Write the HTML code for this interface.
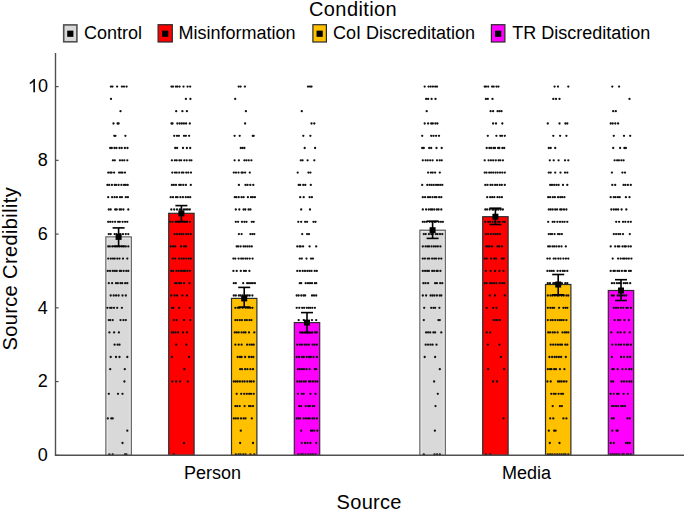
<!DOCTYPE html><html><head><meta charset="utf-8"><style>
html,body{margin:0;padding:0;background:#fff;}
svg{display:block;}
text{font-family:"Liberation Sans",sans-serif;fill:#000;}
</style></head><body>
<svg width="685" height="512" viewBox="0 0 685 512">
<rect x="0" y="0" width="685" height="512" fill="#fff"/>
<text x="309" y="15.5" font-size="20" letter-spacing="0.4">Condition</text>
<rect x="63.70" y="24.90" width="13.20" height="16.90" fill="#d9d9d9" stroke="#505050" stroke-width="1.6"/>
<rect x="67.20" y="30.65" width="6.2" height="6.2" fill="#000"/>
<text x="84.1" y="38.7" font-size="18">Control</text>
<rect x="158.10" y="24.70" width="14.20" height="17.30" fill="#ff0000" stroke="#2a2a2a" stroke-width="1.2"/>
<rect x="162.10" y="30.65" width="6.2" height="6.2" fill="#000"/>
<text x="178.39999999999998" y="38.7" font-size="18">Misinformation</text>
<rect x="312.90" y="24.70" width="13.50" height="17.30" fill="#ffc000" stroke="#2a2a2a" stroke-width="1.2"/>
<rect x="316.55" y="30.65" width="6.2" height="6.2" fill="#000"/>
<text x="333.0" y="38.7" font-size="18">CoI Discreditation</text>
<rect x="491.40" y="24.70" width="13.50" height="17.30" fill="#ff00ff" stroke="#2a2a2a" stroke-width="1.2"/>
<rect x="495.05" y="30.65" width="6.2" height="6.2" fill="#000"/>
<text x="512.2" y="38.7" font-size="18">TR Discreditation</text>
<rect x="105.90" y="236.90" width="25.40" height="218.40" fill="#d9d9d9" stroke="#5c5c5c" stroke-width="1.2"/>
<rect x="107.20" y="238.20" width="22.80" height="217.10" fill="none" stroke="#e9e9e9" stroke-width="0.9"/>
<rect x="168.70" y="213.30" width="25.40" height="242.00" fill="#ff0000" stroke="#2e2e2e" stroke-width="1.2"/>
<rect x="231.50" y="298.40" width="25.40" height="156.90" fill="#ffc000" stroke="#2e2e2e" stroke-width="1.2"/>
<rect x="294.30" y="322.60" width="25.40" height="132.70" fill="#ff00ff" stroke="#2e2e2e" stroke-width="1.2"/>
<rect x="419.90" y="230.20" width="25.40" height="225.10" fill="#d9d9d9" stroke="#5c5c5c" stroke-width="1.2"/>
<rect x="421.20" y="231.50" width="22.80" height="223.80" fill="none" stroke="#e9e9e9" stroke-width="0.9"/>
<rect x="482.70" y="216.70" width="25.40" height="238.60" fill="#ff0000" stroke="#2e2e2e" stroke-width="1.2"/>
<rect x="545.50" y="284.50" width="25.40" height="170.80" fill="#ffc000" stroke="#2e2e2e" stroke-width="1.2"/>
<rect x="608.30" y="290.50" width="25.40" height="164.80" fill="#ff00ff" stroke="#2e2e2e" stroke-width="1.2"/>
<defs><clipPath id="pc"><rect x="56" y="40" width="629" height="414.9"/></clipPath></defs>
<g clip-path="url(#pc)">
<g fill="#111">
<circle cx="110.9" cy="86.6" r="1.15"/>
<circle cx="112.4" cy="86.6" r="1.15"/>
<circle cx="117.1" cy="86.6" r="1.15"/>
<circle cx="121.9" cy="86.6" r="1.15"/>
<circle cx="124.0" cy="86.6" r="1.15"/>
<circle cx="126.6" cy="86.6" r="1.15"/>
<circle cx="111.0" cy="98.9" r="1.15"/>
<circle cx="120.5" cy="111.2" r="1.15"/>
<circle cx="113.5" cy="123.5" r="1.15"/>
<circle cx="117.6" cy="123.5" r="1.15"/>
<circle cx="118.6" cy="123.5" r="1.15"/>
<circle cx="114.3" cy="135.8" r="1.15"/>
<circle cx="115.4" cy="135.8" r="1.15"/>
<circle cx="125.4" cy="135.8" r="1.15"/>
<circle cx="110.2" cy="148.0" r="1.15"/>
<circle cx="111.8" cy="148.0" r="1.15"/>
<circle cx="114.5" cy="148.0" r="1.15"/>
<circle cx="116.4" cy="148.0" r="1.15"/>
<circle cx="119.5" cy="148.0" r="1.15"/>
<circle cx="121.7" cy="148.0" r="1.15"/>
<circle cx="124.9" cy="148.0" r="1.15"/>
<circle cx="127.5" cy="148.0" r="1.15"/>
<circle cx="112.9" cy="160.3" r="1.15"/>
<circle cx="114.8" cy="160.3" r="1.15"/>
<circle cx="119.9" cy="160.3" r="1.15"/>
<circle cx="122.2" cy="160.3" r="1.15"/>
<circle cx="124.3" cy="160.3" r="1.15"/>
<circle cx="127.3" cy="160.3" r="1.15"/>
<circle cx="108.2" cy="172.6" r="1.15"/>
<circle cx="110.2" cy="172.6" r="1.15"/>
<circle cx="111.6" cy="172.6" r="1.15"/>
<circle cx="114.1" cy="172.6" r="1.15"/>
<circle cx="119.1" cy="172.6" r="1.15"/>
<circle cx="121.0" cy="172.6" r="1.15"/>
<circle cx="122.5" cy="172.6" r="1.15"/>
<circle cx="125.0" cy="172.6" r="1.15"/>
<circle cx="107.4" cy="184.9" r="1.15"/>
<circle cx="109.2" cy="184.9" r="1.15"/>
<circle cx="111.9" cy="184.9" r="1.15"/>
<circle cx="114.7" cy="184.9" r="1.15"/>
<circle cx="116.1" cy="184.9" r="1.15"/>
<circle cx="118.6" cy="184.9" r="1.15"/>
<circle cx="121.4" cy="184.9" r="1.15"/>
<circle cx="124.0" cy="184.9" r="1.15"/>
<circle cx="125.8" cy="184.9" r="1.15"/>
<circle cx="127.7" cy="184.9" r="1.15"/>
<circle cx="108.2" cy="197.2" r="1.15"/>
<circle cx="112.1" cy="197.2" r="1.15"/>
<circle cx="114.6" cy="197.2" r="1.15"/>
<circle cx="116.9" cy="197.2" r="1.15"/>
<circle cx="120.0" cy="197.2" r="1.15"/>
<circle cx="121.9" cy="197.2" r="1.15"/>
<circle cx="125.8" cy="197.2" r="1.15"/>
<circle cx="127.9" cy="197.2" r="1.15"/>
<circle cx="108.8" cy="209.5" r="1.15"/>
<circle cx="110.7" cy="209.5" r="1.15"/>
<circle cx="115.2" cy="209.5" r="1.15"/>
<circle cx="116.7" cy="209.5" r="1.15"/>
<circle cx="119.7" cy="209.5" r="1.15"/>
<circle cx="121.1" cy="209.5" r="1.15"/>
<circle cx="123.4" cy="209.5" r="1.15"/>
<circle cx="128.3" cy="209.5" r="1.15"/>
<circle cx="108.2" cy="221.8" r="1.15"/>
<circle cx="110.2" cy="221.8" r="1.15"/>
<circle cx="112.5" cy="221.8" r="1.15"/>
<circle cx="115.1" cy="221.8" r="1.15"/>
<circle cx="118.1" cy="221.8" r="1.15"/>
<circle cx="119.8" cy="221.8" r="1.15"/>
<circle cx="122.6" cy="221.8" r="1.15"/>
<circle cx="125.1" cy="221.8" r="1.15"/>
<circle cx="127.3" cy="221.8" r="1.15"/>
<circle cx="108.8" cy="234.1" r="1.15"/>
<circle cx="110.7" cy="234.1" r="1.15"/>
<circle cx="114.6" cy="234.1" r="1.15"/>
<circle cx="116.5" cy="234.1" r="1.15"/>
<circle cx="118.9" cy="234.1" r="1.15"/>
<circle cx="120.4" cy="234.1" r="1.15"/>
<circle cx="123.0" cy="234.1" r="1.15"/>
<circle cx="125.8" cy="234.1" r="1.15"/>
<circle cx="128.3" cy="234.1" r="1.15"/>
<circle cx="108.2" cy="246.4" r="1.15"/>
<circle cx="109.9" cy="246.4" r="1.15"/>
<circle cx="112.3" cy="246.4" r="1.15"/>
<circle cx="115.1" cy="246.4" r="1.15"/>
<circle cx="117.0" cy="246.4" r="1.15"/>
<circle cx="119.1" cy="246.4" r="1.15"/>
<circle cx="121.7" cy="246.4" r="1.15"/>
<circle cx="123.8" cy="246.4" r="1.15"/>
<circle cx="125.8" cy="246.4" r="1.15"/>
<circle cx="128.3" cy="246.4" r="1.15"/>
<circle cx="108.2" cy="258.6" r="1.15"/>
<circle cx="110.8" cy="258.6" r="1.15"/>
<circle cx="113.0" cy="258.6" r="1.15"/>
<circle cx="114.7" cy="258.6" r="1.15"/>
<circle cx="117.3" cy="258.6" r="1.15"/>
<circle cx="119.5" cy="258.6" r="1.15"/>
<circle cx="123.0" cy="258.6" r="1.15"/>
<circle cx="127.3" cy="258.6" r="1.15"/>
<circle cx="107.8" cy="270.9" r="1.15"/>
<circle cx="110.1" cy="270.9" r="1.15"/>
<circle cx="112.8" cy="270.9" r="1.15"/>
<circle cx="114.9" cy="270.9" r="1.15"/>
<circle cx="116.7" cy="270.9" r="1.15"/>
<circle cx="119.8" cy="270.9" r="1.15"/>
<circle cx="121.0" cy="270.9" r="1.15"/>
<circle cx="123.6" cy="270.9" r="1.15"/>
<circle cx="126.3" cy="270.9" r="1.15"/>
<circle cx="128.3" cy="270.9" r="1.15"/>
<circle cx="108.8" cy="283.2" r="1.15"/>
<circle cx="112.1" cy="283.2" r="1.15"/>
<circle cx="116.0" cy="283.2" r="1.15"/>
<circle cx="117.8" cy="283.2" r="1.15"/>
<circle cx="120.5" cy="283.2" r="1.15"/>
<circle cx="122.2" cy="283.2" r="1.15"/>
<circle cx="125.2" cy="283.2" r="1.15"/>
<circle cx="127.3" cy="283.2" r="1.15"/>
<circle cx="110.7" cy="295.5" r="1.15"/>
<circle cx="113.7" cy="295.5" r="1.15"/>
<circle cx="116.1" cy="295.5" r="1.15"/>
<circle cx="118.6" cy="295.5" r="1.15"/>
<circle cx="122.5" cy="295.5" r="1.15"/>
<circle cx="125.8" cy="295.5" r="1.15"/>
<circle cx="107.4" cy="307.8" r="1.15"/>
<circle cx="110.1" cy="307.8" r="1.15"/>
<circle cx="111.6" cy="307.8" r="1.15"/>
<circle cx="114.0" cy="307.8" r="1.15"/>
<circle cx="117.2" cy="307.8" r="1.15"/>
<circle cx="121.9" cy="307.8" r="1.15"/>
<circle cx="108.8" cy="320.1" r="1.15"/>
<circle cx="110.2" cy="320.1" r="1.15"/>
<circle cx="112.7" cy="320.1" r="1.15"/>
<circle cx="120.5" cy="320.1" r="1.15"/>
<circle cx="123.4" cy="320.1" r="1.15"/>
<circle cx="125.8" cy="320.1" r="1.15"/>
<circle cx="109.4" cy="332.4" r="1.15"/>
<circle cx="114.1" cy="332.4" r="1.15"/>
<circle cx="118.9" cy="332.4" r="1.15"/>
<circle cx="114.6" cy="344.7" r="1.15"/>
<circle cx="117.6" cy="344.7" r="1.15"/>
<circle cx="119.5" cy="344.7" r="1.15"/>
<circle cx="110.7" cy="357.0" r="1.15"/>
<circle cx="116.0" cy="357.0" r="1.15"/>
<circle cx="119.5" cy="357.0" r="1.15"/>
<circle cx="127.3" cy="357.0" r="1.15"/>
<circle cx="110.2" cy="369.2" r="1.15"/>
<circle cx="124.8" cy="369.2" r="1.15"/>
<circle cx="124.4" cy="381.5" r="1.15"/>
<circle cx="108.8" cy="393.8" r="1.15"/>
<circle cx="118.0" cy="393.8" r="1.15"/>
<circle cx="122.5" cy="393.8" r="1.15"/>
<circle cx="107.8" cy="418.4" r="1.15"/>
<circle cx="111.3" cy="418.4" r="1.15"/>
<circle cx="112.7" cy="418.4" r="1.15"/>
<circle cx="127.3" cy="430.7" r="1.15"/>
<circle cx="122.5" cy="443.0" r="1.15"/>
<circle cx="109.4" cy="454.5" r="1.15"/>
<circle cx="112.7" cy="454.5" r="1.15"/>
<circle cx="125.0" cy="454.5" r="1.15"/>
<circle cx="126.4" cy="454.5" r="1.15"/>
<circle cx="171.5" cy="86.6" r="1.15"/>
<circle cx="173.0" cy="86.6" r="1.15"/>
<circle cx="175.9" cy="86.6" r="1.15"/>
<circle cx="177.4" cy="86.6" r="1.15"/>
<circle cx="179.6" cy="86.6" r="1.15"/>
<circle cx="183.5" cy="86.6" r="1.15"/>
<circle cx="187.6" cy="86.6" r="1.15"/>
<circle cx="190.2" cy="86.6" r="1.15"/>
<circle cx="185.9" cy="98.9" r="1.15"/>
<circle cx="190.4" cy="98.9" r="1.15"/>
<circle cx="176.2" cy="111.2" r="1.15"/>
<circle cx="182.4" cy="111.2" r="1.15"/>
<circle cx="186.9" cy="111.2" r="1.15"/>
<circle cx="171.5" cy="123.5" r="1.15"/>
<circle cx="172.5" cy="123.5" r="1.15"/>
<circle cx="177.4" cy="123.5" r="1.15"/>
<circle cx="179.7" cy="123.5" r="1.15"/>
<circle cx="181.8" cy="123.5" r="1.15"/>
<circle cx="183.9" cy="123.5" r="1.15"/>
<circle cx="186.1" cy="123.5" r="1.15"/>
<circle cx="189.8" cy="123.5" r="1.15"/>
<circle cx="174.2" cy="135.8" r="1.15"/>
<circle cx="177.0" cy="135.8" r="1.15"/>
<circle cx="178.9" cy="135.8" r="1.15"/>
<circle cx="184.0" cy="135.8" r="1.15"/>
<circle cx="185.9" cy="135.8" r="1.15"/>
<circle cx="189.1" cy="135.8" r="1.15"/>
<circle cx="175.2" cy="148.0" r="1.15"/>
<circle cx="177.1" cy="148.0" r="1.15"/>
<circle cx="183.0" cy="148.0" r="1.15"/>
<circle cx="186.9" cy="148.0" r="1.15"/>
<circle cx="190.2" cy="148.0" r="1.15"/>
<circle cx="171.9" cy="160.3" r="1.15"/>
<circle cx="174.9" cy="160.3" r="1.15"/>
<circle cx="176.7" cy="160.3" r="1.15"/>
<circle cx="179.4" cy="160.3" r="1.15"/>
<circle cx="181.1" cy="160.3" r="1.15"/>
<circle cx="184.3" cy="160.3" r="1.15"/>
<circle cx="186.7" cy="160.3" r="1.15"/>
<circle cx="189.6" cy="160.3" r="1.15"/>
<circle cx="191.4" cy="160.3" r="1.15"/>
<circle cx="172.3" cy="172.6" r="1.15"/>
<circle cx="175.0" cy="172.6" r="1.15"/>
<circle cx="176.7" cy="172.6" r="1.15"/>
<circle cx="179.2" cy="172.6" r="1.15"/>
<circle cx="181.9" cy="172.6" r="1.15"/>
<circle cx="183.4" cy="172.6" r="1.15"/>
<circle cx="186.3" cy="172.6" r="1.15"/>
<circle cx="188.3" cy="172.6" r="1.15"/>
<circle cx="191.0" cy="172.6" r="1.15"/>
<circle cx="171.9" cy="184.9" r="1.15"/>
<circle cx="173.8" cy="184.9" r="1.15"/>
<circle cx="176.0" cy="184.9" r="1.15"/>
<circle cx="179.2" cy="184.9" r="1.15"/>
<circle cx="180.8" cy="184.9" r="1.15"/>
<circle cx="183.3" cy="184.9" r="1.15"/>
<circle cx="185.9" cy="184.9" r="1.15"/>
<circle cx="190.8" cy="184.9" r="1.15"/>
<circle cx="170.7" cy="197.2" r="1.15"/>
<circle cx="173.0" cy="197.2" r="1.15"/>
<circle cx="176.0" cy="197.2" r="1.15"/>
<circle cx="177.5" cy="197.2" r="1.15"/>
<circle cx="180.4" cy="197.2" r="1.15"/>
<circle cx="182.9" cy="197.2" r="1.15"/>
<circle cx="185.8" cy="197.2" r="1.15"/>
<circle cx="188.1" cy="197.2" r="1.15"/>
<circle cx="190.2" cy="197.2" r="1.15"/>
<circle cx="171.3" cy="209.5" r="1.15"/>
<circle cx="174.2" cy="209.5" r="1.15"/>
<circle cx="177.0" cy="209.5" r="1.15"/>
<circle cx="179.8" cy="209.5" r="1.15"/>
<circle cx="181.4" cy="209.5" r="1.15"/>
<circle cx="184.0" cy="209.5" r="1.15"/>
<circle cx="186.0" cy="209.5" r="1.15"/>
<circle cx="187.8" cy="209.5" r="1.15"/>
<circle cx="189.8" cy="209.5" r="1.15"/>
<circle cx="170.3" cy="221.8" r="1.15"/>
<circle cx="172.6" cy="221.8" r="1.15"/>
<circle cx="175.6" cy="221.8" r="1.15"/>
<circle cx="178.2" cy="221.8" r="1.15"/>
<circle cx="179.6" cy="221.8" r="1.15"/>
<circle cx="182.1" cy="221.8" r="1.15"/>
<circle cx="184.6" cy="221.8" r="1.15"/>
<circle cx="187.0" cy="221.8" r="1.15"/>
<circle cx="189.8" cy="221.8" r="1.15"/>
<circle cx="174.6" cy="234.1" r="1.15"/>
<circle cx="176.9" cy="234.1" r="1.15"/>
<circle cx="179.3" cy="234.1" r="1.15"/>
<circle cx="181.3" cy="234.1" r="1.15"/>
<circle cx="183.3" cy="234.1" r="1.15"/>
<circle cx="186.1" cy="234.1" r="1.15"/>
<circle cx="188.3" cy="234.1" r="1.15"/>
<circle cx="190.8" cy="234.1" r="1.15"/>
<circle cx="170.7" cy="246.4" r="1.15"/>
<circle cx="173.0" cy="246.4" r="1.15"/>
<circle cx="175.2" cy="246.4" r="1.15"/>
<circle cx="181.0" cy="246.4" r="1.15"/>
<circle cx="184.0" cy="246.4" r="1.15"/>
<circle cx="186.0" cy="246.4" r="1.15"/>
<circle cx="172.7" cy="258.6" r="1.15"/>
<circle cx="175.2" cy="258.6" r="1.15"/>
<circle cx="179.1" cy="258.6" r="1.15"/>
<circle cx="181.7" cy="258.6" r="1.15"/>
<circle cx="183.8" cy="258.6" r="1.15"/>
<circle cx="186.3" cy="258.6" r="1.15"/>
<circle cx="188.7" cy="258.6" r="1.15"/>
<circle cx="190.8" cy="258.6" r="1.15"/>
<circle cx="171.3" cy="270.9" r="1.15"/>
<circle cx="173.1" cy="270.9" r="1.15"/>
<circle cx="176.4" cy="270.9" r="1.15"/>
<circle cx="178.6" cy="270.9" r="1.15"/>
<circle cx="181.0" cy="270.9" r="1.15"/>
<circle cx="183.2" cy="270.9" r="1.15"/>
<circle cx="185.0" cy="270.9" r="1.15"/>
<circle cx="187.4" cy="270.9" r="1.15"/>
<circle cx="189.8" cy="270.9" r="1.15"/>
<circle cx="175.2" cy="283.2" r="1.15"/>
<circle cx="176.7" cy="283.2" r="1.15"/>
<circle cx="179.2" cy="283.2" r="1.15"/>
<circle cx="181.0" cy="283.2" r="1.15"/>
<circle cx="184.0" cy="283.2" r="1.15"/>
<circle cx="189.5" cy="283.2" r="1.15"/>
<circle cx="171.3" cy="295.5" r="1.15"/>
<circle cx="174.6" cy="295.5" r="1.15"/>
<circle cx="177.1" cy="295.5" r="1.15"/>
<circle cx="182.4" cy="295.5" r="1.15"/>
<circle cx="186.9" cy="295.5" r="1.15"/>
<circle cx="171.9" cy="307.8" r="1.15"/>
<circle cx="173.4" cy="307.8" r="1.15"/>
<circle cx="179.1" cy="307.8" r="1.15"/>
<circle cx="189.8" cy="307.8" r="1.15"/>
<circle cx="173.8" cy="320.1" r="1.15"/>
<circle cx="176.6" cy="320.1" r="1.15"/>
<circle cx="184.0" cy="320.1" r="1.15"/>
<circle cx="190.2" cy="320.1" r="1.15"/>
<circle cx="171.9" cy="332.4" r="1.15"/>
<circle cx="173.4" cy="332.4" r="1.15"/>
<circle cx="175.5" cy="332.4" r="1.15"/>
<circle cx="178.1" cy="332.4" r="1.15"/>
<circle cx="183.0" cy="332.4" r="1.15"/>
<circle cx="186.9" cy="332.4" r="1.15"/>
<circle cx="176.2" cy="344.7" r="1.15"/>
<circle cx="186.3" cy="344.7" r="1.15"/>
<circle cx="171.9" cy="357.0" r="1.15"/>
<circle cx="189.1" cy="357.0" r="1.15"/>
<circle cx="184.4" cy="369.2" r="1.15"/>
<circle cx="172.3" cy="381.5" r="1.15"/>
<circle cx="176.2" cy="381.5" r="1.15"/>
<circle cx="180.1" cy="381.5" r="1.15"/>
<circle cx="187.9" cy="381.5" r="1.15"/>
<circle cx="184.0" cy="443.0" r="1.15"/>
<circle cx="173.8" cy="454.5" r="1.15"/>
<circle cx="238.7" cy="86.6" r="1.15"/>
<circle cx="240.6" cy="86.6" r="1.15"/>
<circle cx="244.9" cy="86.6" r="1.15"/>
<circle cx="235.2" cy="98.9" r="1.15"/>
<circle cx="245.9" cy="111.2" r="1.15"/>
<circle cx="245.1" cy="123.5" r="1.15"/>
<circle cx="234.6" cy="135.8" r="1.15"/>
<circle cx="239.7" cy="135.8" r="1.15"/>
<circle cx="252.8" cy="135.8" r="1.15"/>
<circle cx="253.7" cy="135.8" r="1.15"/>
<circle cx="240.8" cy="148.0" r="1.15"/>
<circle cx="242.6" cy="148.0" r="1.15"/>
<circle cx="244.4" cy="148.0" r="1.15"/>
<circle cx="234.6" cy="160.3" r="1.15"/>
<circle cx="238.9" cy="160.3" r="1.15"/>
<circle cx="244.4" cy="160.3" r="1.15"/>
<circle cx="246.4" cy="160.3" r="1.15"/>
<circle cx="248.7" cy="160.3" r="1.15"/>
<circle cx="251.4" cy="160.3" r="1.15"/>
<circle cx="233.8" cy="172.6" r="1.15"/>
<circle cx="236.0" cy="172.6" r="1.15"/>
<circle cx="238.5" cy="172.6" r="1.15"/>
<circle cx="241.6" cy="172.6" r="1.15"/>
<circle cx="242.8" cy="172.6" r="1.15"/>
<circle cx="245.1" cy="172.6" r="1.15"/>
<circle cx="249.8" cy="172.6" r="1.15"/>
<circle cx="238.9" cy="184.9" r="1.15"/>
<circle cx="245.5" cy="184.9" r="1.15"/>
<circle cx="247.5" cy="184.9" r="1.15"/>
<circle cx="250.3" cy="184.9" r="1.15"/>
<circle cx="253.3" cy="184.9" r="1.15"/>
<circle cx="234.8" cy="197.2" r="1.15"/>
<circle cx="236.3" cy="197.2" r="1.15"/>
<circle cx="238.7" cy="197.2" r="1.15"/>
<circle cx="241.6" cy="197.2" r="1.15"/>
<circle cx="243.6" cy="197.2" r="1.15"/>
<circle cx="247.9" cy="197.2" r="1.15"/>
<circle cx="251.0" cy="197.2" r="1.15"/>
<circle cx="252.8" cy="197.2" r="1.15"/>
<circle cx="254.9" cy="197.2" r="1.15"/>
<circle cx="235.8" cy="209.5" r="1.15"/>
<circle cx="239.3" cy="209.5" r="1.15"/>
<circle cx="243.6" cy="209.5" r="1.15"/>
<circle cx="245.3" cy="209.5" r="1.15"/>
<circle cx="248.6" cy="209.5" r="1.15"/>
<circle cx="250.4" cy="209.5" r="1.15"/>
<circle cx="235.8" cy="221.8" r="1.15"/>
<circle cx="238.1" cy="221.8" r="1.15"/>
<circle cx="242.0" cy="221.8" r="1.15"/>
<circle cx="244.4" cy="221.8" r="1.15"/>
<circle cx="246.5" cy="221.8" r="1.15"/>
<circle cx="251.8" cy="221.8" r="1.15"/>
<circle cx="253.7" cy="221.8" r="1.15"/>
<circle cx="238.9" cy="234.1" r="1.15"/>
<circle cx="241.6" cy="234.1" r="1.15"/>
<circle cx="250.4" cy="234.1" r="1.15"/>
<circle cx="252.4" cy="234.1" r="1.15"/>
<circle cx="254.3" cy="234.1" r="1.15"/>
<circle cx="236.7" cy="246.4" r="1.15"/>
<circle cx="238.2" cy="246.4" r="1.15"/>
<circle cx="240.6" cy="246.4" r="1.15"/>
<circle cx="243.6" cy="246.4" r="1.15"/>
<circle cx="245.4" cy="246.4" r="1.15"/>
<circle cx="247.5" cy="246.4" r="1.15"/>
<circle cx="249.6" cy="246.4" r="1.15"/>
<circle cx="251.8" cy="246.4" r="1.15"/>
<circle cx="233.4" cy="258.6" r="1.15"/>
<circle cx="235.3" cy="258.6" r="1.15"/>
<circle cx="238.6" cy="258.6" r="1.15"/>
<circle cx="241.2" cy="258.6" r="1.15"/>
<circle cx="243.0" cy="258.6" r="1.15"/>
<circle cx="245.4" cy="258.6" r="1.15"/>
<circle cx="247.3" cy="258.6" r="1.15"/>
<circle cx="249.7" cy="258.6" r="1.15"/>
<circle cx="252.6" cy="258.6" r="1.15"/>
<circle cx="233.4" cy="270.9" r="1.15"/>
<circle cx="236.7" cy="270.9" r="1.15"/>
<circle cx="240.8" cy="270.9" r="1.15"/>
<circle cx="244.0" cy="270.9" r="1.15"/>
<circle cx="245.9" cy="270.9" r="1.15"/>
<circle cx="249.4" cy="270.9" r="1.15"/>
<circle cx="233.8" cy="283.2" r="1.15"/>
<circle cx="235.8" cy="283.2" r="1.15"/>
<circle cx="243.2" cy="283.2" r="1.15"/>
<circle cx="247.1" cy="283.2" r="1.15"/>
<circle cx="249.0" cy="283.2" r="1.15"/>
<circle cx="251.0" cy="283.2" r="1.15"/>
<circle cx="252.8" cy="283.2" r="1.15"/>
<circle cx="254.9" cy="283.2" r="1.15"/>
<circle cx="233.8" cy="295.5" r="1.15"/>
<circle cx="235.8" cy="295.5" r="1.15"/>
<circle cx="238.8" cy="295.5" r="1.15"/>
<circle cx="240.4" cy="295.5" r="1.15"/>
<circle cx="242.5" cy="295.5" r="1.15"/>
<circle cx="246.0" cy="295.5" r="1.15"/>
<circle cx="247.8" cy="295.5" r="1.15"/>
<circle cx="249.7" cy="295.5" r="1.15"/>
<circle cx="252.4" cy="295.5" r="1.15"/>
<circle cx="235.4" cy="307.8" r="1.15"/>
<circle cx="237.9" cy="307.8" r="1.15"/>
<circle cx="239.7" cy="307.8" r="1.15"/>
<circle cx="242.7" cy="307.8" r="1.15"/>
<circle cx="245.7" cy="307.8" r="1.15"/>
<circle cx="248.0" cy="307.8" r="1.15"/>
<circle cx="250.2" cy="307.8" r="1.15"/>
<circle cx="252.4" cy="307.8" r="1.15"/>
<circle cx="235.4" cy="320.1" r="1.15"/>
<circle cx="237.4" cy="320.1" r="1.15"/>
<circle cx="239.8" cy="320.1" r="1.15"/>
<circle cx="241.9" cy="320.1" r="1.15"/>
<circle cx="244.9" cy="320.1" r="1.15"/>
<circle cx="246.9" cy="320.1" r="1.15"/>
<circle cx="249.4" cy="320.1" r="1.15"/>
<circle cx="251.4" cy="320.1" r="1.15"/>
<circle cx="234.8" cy="332.4" r="1.15"/>
<circle cx="236.7" cy="332.4" r="1.15"/>
<circle cx="238.7" cy="332.4" r="1.15"/>
<circle cx="241.6" cy="332.4" r="1.15"/>
<circle cx="243.9" cy="332.4" r="1.15"/>
<circle cx="245.5" cy="332.4" r="1.15"/>
<circle cx="249.0" cy="332.4" r="1.15"/>
<circle cx="254.3" cy="332.4" r="1.15"/>
<circle cx="235.4" cy="344.7" r="1.15"/>
<circle cx="238.7" cy="344.7" r="1.15"/>
<circle cx="241.6" cy="344.7" r="1.15"/>
<circle cx="247.1" cy="344.7" r="1.15"/>
<circle cx="249.7" cy="344.7" r="1.15"/>
<circle cx="251.9" cy="344.7" r="1.15"/>
<circle cx="253.7" cy="344.7" r="1.15"/>
<circle cx="237.7" cy="357.0" r="1.15"/>
<circle cx="240.0" cy="357.0" r="1.15"/>
<circle cx="241.6" cy="357.0" r="1.15"/>
<circle cx="245.1" cy="357.0" r="1.15"/>
<circle cx="249.0" cy="357.0" r="1.15"/>
<circle cx="251.4" cy="357.0" r="1.15"/>
<circle cx="253.3" cy="357.0" r="1.15"/>
<circle cx="240.1" cy="369.2" r="1.15"/>
<circle cx="242.0" cy="369.2" r="1.15"/>
<circle cx="245.1" cy="369.2" r="1.15"/>
<circle cx="247.4" cy="369.2" r="1.15"/>
<circle cx="250.4" cy="369.2" r="1.15"/>
<circle cx="253.0" cy="369.2" r="1.15"/>
<circle cx="233.8" cy="381.5" r="1.15"/>
<circle cx="235.8" cy="381.5" r="1.15"/>
<circle cx="237.7" cy="381.5" r="1.15"/>
<circle cx="239.9" cy="381.5" r="1.15"/>
<circle cx="242.4" cy="381.5" r="1.15"/>
<circle cx="244.6" cy="381.5" r="1.15"/>
<circle cx="247.3" cy="381.5" r="1.15"/>
<circle cx="249.8" cy="381.5" r="1.15"/>
<circle cx="251.4" cy="381.5" r="1.15"/>
<circle cx="253.7" cy="381.5" r="1.15"/>
<circle cx="236.7" cy="393.8" r="1.15"/>
<circle cx="241.2" cy="393.8" r="1.15"/>
<circle cx="244.2" cy="393.8" r="1.15"/>
<circle cx="246.8" cy="393.8" r="1.15"/>
<circle cx="249.2" cy="393.8" r="1.15"/>
<circle cx="251.0" cy="393.8" r="1.15"/>
<circle cx="253.7" cy="393.8" r="1.15"/>
<circle cx="235.4" cy="406.1" r="1.15"/>
<circle cx="237.2" cy="406.1" r="1.15"/>
<circle cx="239.7" cy="406.1" r="1.15"/>
<circle cx="244.6" cy="406.1" r="1.15"/>
<circle cx="249.0" cy="406.1" r="1.15"/>
<circle cx="250.7" cy="406.1" r="1.15"/>
<circle cx="253.0" cy="406.1" r="1.15"/>
<circle cx="233.8" cy="418.4" r="1.15"/>
<circle cx="235.8" cy="418.4" r="1.15"/>
<circle cx="238.1" cy="418.4" r="1.15"/>
<circle cx="241.0" cy="418.4" r="1.15"/>
<circle cx="243.6" cy="418.4" r="1.15"/>
<circle cx="245.5" cy="418.4" r="1.15"/>
<circle cx="251.8" cy="418.4" r="1.15"/>
<circle cx="240.8" cy="430.7" r="1.15"/>
<circle cx="240.1" cy="443.0" r="1.15"/>
<circle cx="253.0" cy="443.0" r="1.15"/>
<circle cx="235.8" cy="454.5" r="1.15"/>
<circle cx="238.6" cy="454.5" r="1.15"/>
<circle cx="240.6" cy="454.5" r="1.15"/>
<circle cx="243.3" cy="454.5" r="1.15"/>
<circle cx="245.5" cy="454.5" r="1.15"/>
<circle cx="250.4" cy="454.5" r="1.15"/>
<circle cx="254.3" cy="454.5" r="1.15"/>
<circle cx="308.0" cy="86.6" r="1.15"/>
<circle cx="310.0" cy="86.6" r="1.15"/>
<circle cx="311.5" cy="86.6" r="1.15"/>
<circle cx="301.8" cy="111.2" r="1.15"/>
<circle cx="311.5" cy="123.5" r="1.15"/>
<circle cx="314.3" cy="123.5" r="1.15"/>
<circle cx="303.3" cy="135.8" r="1.15"/>
<circle cx="310.4" cy="135.8" r="1.15"/>
<circle cx="304.7" cy="148.0" r="1.15"/>
<circle cx="315.1" cy="148.0" r="1.15"/>
<circle cx="300.8" cy="160.3" r="1.15"/>
<circle cx="302.6" cy="160.3" r="1.15"/>
<circle cx="307.6" cy="160.3" r="1.15"/>
<circle cx="314.3" cy="160.3" r="1.15"/>
<circle cx="297.7" cy="172.6" r="1.15"/>
<circle cx="308.4" cy="172.6" r="1.15"/>
<circle cx="310.4" cy="172.6" r="1.15"/>
<circle cx="298.7" cy="184.9" r="1.15"/>
<circle cx="300.2" cy="184.9" r="1.15"/>
<circle cx="303.3" cy="184.9" r="1.15"/>
<circle cx="305.3" cy="184.9" r="1.15"/>
<circle cx="310.8" cy="184.9" r="1.15"/>
<circle cx="300.2" cy="197.2" r="1.15"/>
<circle cx="303.7" cy="197.2" r="1.15"/>
<circle cx="309.6" cy="197.2" r="1.15"/>
<circle cx="311.9" cy="197.2" r="1.15"/>
<circle cx="301.2" cy="209.5" r="1.15"/>
<circle cx="310.0" cy="209.5" r="1.15"/>
<circle cx="298.3" cy="221.8" r="1.15"/>
<circle cx="301.2" cy="221.8" r="1.15"/>
<circle cx="305.1" cy="221.8" r="1.15"/>
<circle cx="307.1" cy="221.8" r="1.15"/>
<circle cx="313.5" cy="221.8" r="1.15"/>
<circle cx="315.5" cy="221.8" r="1.15"/>
<circle cx="302.2" cy="234.1" r="1.15"/>
<circle cx="307.1" cy="234.1" r="1.15"/>
<circle cx="309.0" cy="234.1" r="1.15"/>
<circle cx="297.3" cy="246.4" r="1.15"/>
<circle cx="299.6" cy="246.4" r="1.15"/>
<circle cx="300.7" cy="246.4" r="1.15"/>
<circle cx="303.1" cy="246.4" r="1.15"/>
<circle cx="309.6" cy="246.4" r="1.15"/>
<circle cx="316.2" cy="246.4" r="1.15"/>
<circle cx="299.8" cy="258.6" r="1.15"/>
<circle cx="301.8" cy="258.6" r="1.15"/>
<circle cx="306.5" cy="258.6" r="1.15"/>
<circle cx="311.0" cy="258.6" r="1.15"/>
<circle cx="312.9" cy="258.6" r="1.15"/>
<circle cx="297.3" cy="270.9" r="1.15"/>
<circle cx="299.9" cy="270.9" r="1.15"/>
<circle cx="302.7" cy="270.9" r="1.15"/>
<circle cx="305.0" cy="270.9" r="1.15"/>
<circle cx="307.4" cy="270.9" r="1.15"/>
<circle cx="309.5" cy="270.9" r="1.15"/>
<circle cx="311.5" cy="270.9" r="1.15"/>
<circle cx="314.7" cy="270.9" r="1.15"/>
<circle cx="316.8" cy="270.9" r="1.15"/>
<circle cx="299.8" cy="283.2" r="1.15"/>
<circle cx="301.2" cy="283.2" r="1.15"/>
<circle cx="305.7" cy="283.2" r="1.15"/>
<circle cx="308.0" cy="283.2" r="1.15"/>
<circle cx="310.0" cy="283.2" r="1.15"/>
<circle cx="312.0" cy="283.2" r="1.15"/>
<circle cx="314.9" cy="283.2" r="1.15"/>
<circle cx="316.2" cy="283.2" r="1.15"/>
<circle cx="296.7" cy="295.5" r="1.15"/>
<circle cx="298.6" cy="295.5" r="1.15"/>
<circle cx="301.3" cy="295.5" r="1.15"/>
<circle cx="303.6" cy="295.5" r="1.15"/>
<circle cx="305.1" cy="295.5" r="1.15"/>
<circle cx="312.0" cy="295.5" r="1.15"/>
<circle cx="314.0" cy="295.5" r="1.15"/>
<circle cx="316.2" cy="295.5" r="1.15"/>
<circle cx="296.7" cy="307.8" r="1.15"/>
<circle cx="299.3" cy="307.8" r="1.15"/>
<circle cx="302.2" cy="307.8" r="1.15"/>
<circle cx="304.1" cy="307.8" r="1.15"/>
<circle cx="306.8" cy="307.8" r="1.15"/>
<circle cx="308.7" cy="307.8" r="1.15"/>
<circle cx="310.2" cy="307.8" r="1.15"/>
<circle cx="312.3" cy="307.8" r="1.15"/>
<circle cx="314.9" cy="307.8" r="1.15"/>
<circle cx="298.7" cy="320.1" r="1.15"/>
<circle cx="303.7" cy="320.1" r="1.15"/>
<circle cx="312.0" cy="320.1" r="1.15"/>
<circle cx="316.2" cy="320.1" r="1.15"/>
<circle cx="300.2" cy="332.4" r="1.15"/>
<circle cx="302.2" cy="332.4" r="1.15"/>
<circle cx="305.4" cy="332.4" r="1.15"/>
<circle cx="307.7" cy="332.4" r="1.15"/>
<circle cx="309.3" cy="332.4" r="1.15"/>
<circle cx="312.4" cy="332.4" r="1.15"/>
<circle cx="315.0" cy="332.4" r="1.15"/>
<circle cx="316.8" cy="332.4" r="1.15"/>
<circle cx="297.3" cy="344.7" r="1.15"/>
<circle cx="299.9" cy="344.7" r="1.15"/>
<circle cx="302.0" cy="344.7" r="1.15"/>
<circle cx="304.7" cy="344.7" r="1.15"/>
<circle cx="306.6" cy="344.7" r="1.15"/>
<circle cx="308.9" cy="344.7" r="1.15"/>
<circle cx="312.5" cy="344.7" r="1.15"/>
<circle cx="314.5" cy="344.7" r="1.15"/>
<circle cx="316.8" cy="344.7" r="1.15"/>
<circle cx="296.7" cy="357.0" r="1.15"/>
<circle cx="299.1" cy="357.0" r="1.15"/>
<circle cx="302.0" cy="357.0" r="1.15"/>
<circle cx="303.8" cy="357.0" r="1.15"/>
<circle cx="306.7" cy="357.0" r="1.15"/>
<circle cx="309.1" cy="357.0" r="1.15"/>
<circle cx="310.8" cy="357.0" r="1.15"/>
<circle cx="313.5" cy="357.0" r="1.15"/>
<circle cx="316.8" cy="357.0" r="1.15"/>
<circle cx="297.9" cy="369.2" r="1.15"/>
<circle cx="299.8" cy="369.2" r="1.15"/>
<circle cx="302.0" cy="369.2" r="1.15"/>
<circle cx="304.0" cy="369.2" r="1.15"/>
<circle cx="306.5" cy="369.2" r="1.15"/>
<circle cx="309.6" cy="369.2" r="1.15"/>
<circle cx="314.9" cy="369.2" r="1.15"/>
<circle cx="316.2" cy="369.2" r="1.15"/>
<circle cx="297.3" cy="381.5" r="1.15"/>
<circle cx="299.6" cy="381.5" r="1.15"/>
<circle cx="301.5" cy="381.5" r="1.15"/>
<circle cx="303.9" cy="381.5" r="1.15"/>
<circle cx="305.8" cy="381.5" r="1.15"/>
<circle cx="309.0" cy="381.5" r="1.15"/>
<circle cx="310.5" cy="381.5" r="1.15"/>
<circle cx="312.9" cy="381.5" r="1.15"/>
<circle cx="315.3" cy="381.5" r="1.15"/>
<circle cx="317.4" cy="381.5" r="1.15"/>
<circle cx="297.9" cy="393.8" r="1.15"/>
<circle cx="301.8" cy="393.8" r="1.15"/>
<circle cx="303.7" cy="393.8" r="1.15"/>
<circle cx="310.4" cy="393.8" r="1.15"/>
<circle cx="315.5" cy="393.8" r="1.15"/>
<circle cx="299.2" cy="406.1" r="1.15"/>
<circle cx="301.2" cy="406.1" r="1.15"/>
<circle cx="305.7" cy="406.1" r="1.15"/>
<circle cx="308.3" cy="406.1" r="1.15"/>
<circle cx="309.9" cy="406.1" r="1.15"/>
<circle cx="312.7" cy="406.1" r="1.15"/>
<circle cx="314.3" cy="406.1" r="1.15"/>
<circle cx="296.7" cy="418.4" r="1.15"/>
<circle cx="298.5" cy="418.4" r="1.15"/>
<circle cx="300.2" cy="418.4" r="1.15"/>
<circle cx="303.7" cy="418.4" r="1.15"/>
<circle cx="305.9" cy="418.4" r="1.15"/>
<circle cx="308.1" cy="418.4" r="1.15"/>
<circle cx="309.7" cy="418.4" r="1.15"/>
<circle cx="312.4" cy="418.4" r="1.15"/>
<circle cx="314.2" cy="418.4" r="1.15"/>
<circle cx="316.8" cy="418.4" r="1.15"/>
<circle cx="301.2" cy="430.7" r="1.15"/>
<circle cx="311.0" cy="430.7" r="1.15"/>
<circle cx="312.3" cy="430.7" r="1.15"/>
<circle cx="314.3" cy="430.7" r="1.15"/>
<circle cx="317.4" cy="430.7" r="1.15"/>
<circle cx="301.8" cy="443.0" r="1.15"/>
<circle cx="305.1" cy="443.0" r="1.15"/>
<circle cx="307.6" cy="443.0" r="1.15"/>
<circle cx="310.4" cy="443.0" r="1.15"/>
<circle cx="316.2" cy="443.0" r="1.15"/>
<circle cx="298.3" cy="454.5" r="1.15"/>
<circle cx="301.1" cy="454.5" r="1.15"/>
<circle cx="302.8" cy="454.5" r="1.15"/>
<circle cx="305.6" cy="454.5" r="1.15"/>
<circle cx="308.4" cy="454.5" r="1.15"/>
<circle cx="310.7" cy="454.5" r="1.15"/>
<circle cx="312.8" cy="454.5" r="1.15"/>
<circle cx="315.5" cy="454.5" r="1.15"/>
<circle cx="424.7" cy="86.6" r="1.15"/>
<circle cx="428.6" cy="86.6" r="1.15"/>
<circle cx="430.7" cy="86.6" r="1.15"/>
<circle cx="432.9" cy="86.6" r="1.15"/>
<circle cx="435.2" cy="86.6" r="1.15"/>
<circle cx="437.0" cy="86.6" r="1.15"/>
<circle cx="426.1" cy="98.9" r="1.15"/>
<circle cx="428.1" cy="98.9" r="1.15"/>
<circle cx="431.6" cy="98.9" r="1.15"/>
<circle cx="435.5" cy="98.9" r="1.15"/>
<circle cx="426.7" cy="111.2" r="1.15"/>
<circle cx="424.7" cy="123.5" r="1.15"/>
<circle cx="428.1" cy="123.5" r="1.15"/>
<circle cx="431.2" cy="123.5" r="1.15"/>
<circle cx="432.8" cy="123.5" r="1.15"/>
<circle cx="435.4" cy="123.5" r="1.15"/>
<circle cx="437.4" cy="123.5" r="1.15"/>
<circle cx="422.2" cy="135.8" r="1.15"/>
<circle cx="431.2" cy="135.8" r="1.15"/>
<circle cx="433.5" cy="135.8" r="1.15"/>
<circle cx="436.1" cy="135.8" r="1.15"/>
<circle cx="439.0" cy="135.8" r="1.15"/>
<circle cx="422.2" cy="148.0" r="1.15"/>
<circle cx="423.8" cy="148.0" r="1.15"/>
<circle cx="429.2" cy="148.0" r="1.15"/>
<circle cx="431.2" cy="148.0" r="1.15"/>
<circle cx="436.5" cy="148.0" r="1.15"/>
<circle cx="441.7" cy="148.0" r="1.15"/>
<circle cx="422.8" cy="160.3" r="1.15"/>
<circle cx="425.6" cy="160.3" r="1.15"/>
<circle cx="427.7" cy="160.3" r="1.15"/>
<circle cx="430.2" cy="160.3" r="1.15"/>
<circle cx="432.6" cy="160.3" r="1.15"/>
<circle cx="437.0" cy="160.3" r="1.15"/>
<circle cx="439.7" cy="160.3" r="1.15"/>
<circle cx="441.7" cy="160.3" r="1.15"/>
<circle cx="428.1" cy="172.6" r="1.15"/>
<circle cx="430.9" cy="172.6" r="1.15"/>
<circle cx="432.7" cy="172.6" r="1.15"/>
<circle cx="435.1" cy="172.6" r="1.15"/>
<circle cx="439.8" cy="172.6" r="1.15"/>
<circle cx="422.2" cy="184.9" r="1.15"/>
<circle cx="427.3" cy="184.9" r="1.15"/>
<circle cx="429.6" cy="184.9" r="1.15"/>
<circle cx="431.6" cy="184.9" r="1.15"/>
<circle cx="433.7" cy="184.9" r="1.15"/>
<circle cx="436.1" cy="184.9" r="1.15"/>
<circle cx="438.0" cy="184.9" r="1.15"/>
<circle cx="440.2" cy="184.9" r="1.15"/>
<circle cx="442.3" cy="184.9" r="1.15"/>
<circle cx="422.8" cy="197.2" r="1.15"/>
<circle cx="425.1" cy="197.2" r="1.15"/>
<circle cx="428.0" cy="197.2" r="1.15"/>
<circle cx="430.0" cy="197.2" r="1.15"/>
<circle cx="432.5" cy="197.2" r="1.15"/>
<circle cx="434.9" cy="197.2" r="1.15"/>
<circle cx="436.4" cy="197.2" r="1.15"/>
<circle cx="439.1" cy="197.2" r="1.15"/>
<circle cx="441.3" cy="197.2" r="1.15"/>
<circle cx="422.8" cy="209.5" r="1.15"/>
<circle cx="426.1" cy="209.5" r="1.15"/>
<circle cx="428.8" cy="209.5" r="1.15"/>
<circle cx="430.9" cy="209.5" r="1.15"/>
<circle cx="432.2" cy="209.5" r="1.15"/>
<circle cx="434.3" cy="209.5" r="1.15"/>
<circle cx="436.9" cy="209.5" r="1.15"/>
<circle cx="438.6" cy="209.5" r="1.15"/>
<circle cx="441.3" cy="209.5" r="1.15"/>
<circle cx="422.8" cy="221.8" r="1.15"/>
<circle cx="424.7" cy="221.8" r="1.15"/>
<circle cx="426.8" cy="221.8" r="1.15"/>
<circle cx="429.7" cy="221.8" r="1.15"/>
<circle cx="432.1" cy="221.8" r="1.15"/>
<circle cx="434.4" cy="221.8" r="1.15"/>
<circle cx="435.8" cy="221.8" r="1.15"/>
<circle cx="438.7" cy="221.8" r="1.15"/>
<circle cx="440.9" cy="221.8" r="1.15"/>
<circle cx="442.9" cy="221.8" r="1.15"/>
<circle cx="423.8" cy="234.1" r="1.15"/>
<circle cx="425.7" cy="234.1" r="1.15"/>
<circle cx="428.9" cy="234.1" r="1.15"/>
<circle cx="431.3" cy="234.1" r="1.15"/>
<circle cx="432.7" cy="234.1" r="1.15"/>
<circle cx="435.9" cy="234.1" r="1.15"/>
<circle cx="437.6" cy="234.1" r="1.15"/>
<circle cx="440.0" cy="234.1" r="1.15"/>
<circle cx="442.3" cy="234.1" r="1.15"/>
<circle cx="422.8" cy="246.4" r="1.15"/>
<circle cx="425.6" cy="246.4" r="1.15"/>
<circle cx="427.6" cy="246.4" r="1.15"/>
<circle cx="429.0" cy="246.4" r="1.15"/>
<circle cx="431.5" cy="246.4" r="1.15"/>
<circle cx="433.8" cy="246.4" r="1.15"/>
<circle cx="435.8" cy="246.4" r="1.15"/>
<circle cx="437.8" cy="246.4" r="1.15"/>
<circle cx="440.4" cy="246.4" r="1.15"/>
<circle cx="422.8" cy="258.6" r="1.15"/>
<circle cx="424.9" cy="258.6" r="1.15"/>
<circle cx="427.7" cy="258.6" r="1.15"/>
<circle cx="429.2" cy="258.6" r="1.15"/>
<circle cx="432.1" cy="258.6" r="1.15"/>
<circle cx="434.3" cy="258.6" r="1.15"/>
<circle cx="436.1" cy="258.6" r="1.15"/>
<circle cx="438.8" cy="258.6" r="1.15"/>
<circle cx="441.3" cy="258.6" r="1.15"/>
<circle cx="422.8" cy="270.9" r="1.15"/>
<circle cx="425.1" cy="270.9" r="1.15"/>
<circle cx="427.2" cy="270.9" r="1.15"/>
<circle cx="428.9" cy="270.9" r="1.15"/>
<circle cx="432.2" cy="270.9" r="1.15"/>
<circle cx="434.1" cy="270.9" r="1.15"/>
<circle cx="436.6" cy="270.9" r="1.15"/>
<circle cx="437.7" cy="270.9" r="1.15"/>
<circle cx="440.4" cy="270.9" r="1.15"/>
<circle cx="423.4" cy="283.2" r="1.15"/>
<circle cx="425.5" cy="283.2" r="1.15"/>
<circle cx="428.1" cy="283.2" r="1.15"/>
<circle cx="435.1" cy="283.2" r="1.15"/>
<circle cx="436.9" cy="283.2" r="1.15"/>
<circle cx="440.2" cy="283.2" r="1.15"/>
<circle cx="442.3" cy="283.2" r="1.15"/>
<circle cx="422.8" cy="295.5" r="1.15"/>
<circle cx="426.1" cy="295.5" r="1.15"/>
<circle cx="430.6" cy="295.5" r="1.15"/>
<circle cx="432.5" cy="295.5" r="1.15"/>
<circle cx="434.4" cy="295.5" r="1.15"/>
<circle cx="436.9" cy="295.5" r="1.15"/>
<circle cx="439.7" cy="295.5" r="1.15"/>
<circle cx="441.3" cy="295.5" r="1.15"/>
<circle cx="424.2" cy="307.8" r="1.15"/>
<circle cx="431.2" cy="307.8" r="1.15"/>
<circle cx="433.5" cy="307.8" r="1.15"/>
<circle cx="435.1" cy="307.8" r="1.15"/>
<circle cx="439.4" cy="307.8" r="1.15"/>
<circle cx="423.8" cy="320.1" r="1.15"/>
<circle cx="438.4" cy="320.1" r="1.15"/>
<circle cx="439.8" cy="320.1" r="1.15"/>
<circle cx="426.1" cy="332.4" r="1.15"/>
<circle cx="428.1" cy="332.4" r="1.15"/>
<circle cx="430.2" cy="332.4" r="1.15"/>
<circle cx="433.4" cy="332.4" r="1.15"/>
<circle cx="435.1" cy="332.4" r="1.15"/>
<circle cx="441.3" cy="332.4" r="1.15"/>
<circle cx="425.7" cy="344.7" r="1.15"/>
<circle cx="428.1" cy="344.7" r="1.15"/>
<circle cx="430.5" cy="344.7" r="1.15"/>
<circle cx="432.6" cy="344.7" r="1.15"/>
<circle cx="436.5" cy="344.7" r="1.15"/>
<circle cx="424.7" cy="357.0" r="1.15"/>
<circle cx="435.1" cy="357.0" r="1.15"/>
<circle cx="439.8" cy="369.2" r="1.15"/>
<circle cx="434.1" cy="381.5" r="1.15"/>
<circle cx="437.8" cy="393.8" r="1.15"/>
<circle cx="435.5" cy="406.1" r="1.15"/>
<circle cx="434.9" cy="430.7" r="1.15"/>
<circle cx="423.8" cy="454.5" r="1.15"/>
<circle cx="434.5" cy="454.5" r="1.15"/>
<circle cx="437.0" cy="454.5" r="1.15"/>
<circle cx="439.8" cy="454.5" r="1.15"/>
<circle cx="484.7" cy="86.6" r="1.15"/>
<circle cx="486.0" cy="86.6" r="1.15"/>
<circle cx="488.2" cy="86.6" r="1.15"/>
<circle cx="492.1" cy="86.6" r="1.15"/>
<circle cx="493.7" cy="86.6" r="1.15"/>
<circle cx="496.5" cy="86.6" r="1.15"/>
<circle cx="498.4" cy="86.6" r="1.15"/>
<circle cx="485.9" cy="98.9" r="1.15"/>
<circle cx="487.8" cy="98.9" r="1.15"/>
<circle cx="492.5" cy="98.9" r="1.15"/>
<circle cx="490.6" cy="111.2" r="1.15"/>
<circle cx="493.1" cy="111.2" r="1.15"/>
<circle cx="497.6" cy="111.2" r="1.15"/>
<circle cx="499.5" cy="111.2" r="1.15"/>
<circle cx="501.5" cy="111.2" r="1.15"/>
<circle cx="493.1" cy="123.5" r="1.15"/>
<circle cx="496.0" cy="123.5" r="1.15"/>
<circle cx="502.3" cy="123.5" r="1.15"/>
<circle cx="487.8" cy="135.8" r="1.15"/>
<circle cx="496.4" cy="135.8" r="1.15"/>
<circle cx="500.3" cy="135.8" r="1.15"/>
<circle cx="502.0" cy="135.8" r="1.15"/>
<circle cx="504.8" cy="135.8" r="1.15"/>
<circle cx="486.7" cy="148.0" r="1.15"/>
<circle cx="489.4" cy="148.0" r="1.15"/>
<circle cx="491.2" cy="148.0" r="1.15"/>
<circle cx="493.6" cy="148.0" r="1.15"/>
<circle cx="495.0" cy="148.0" r="1.15"/>
<circle cx="498.1" cy="148.0" r="1.15"/>
<circle cx="499.3" cy="148.0" r="1.15"/>
<circle cx="502.4" cy="148.0" r="1.15"/>
<circle cx="504.2" cy="148.0" r="1.15"/>
<circle cx="484.7" cy="160.3" r="1.15"/>
<circle cx="488.6" cy="160.3" r="1.15"/>
<circle cx="490.9" cy="160.3" r="1.15"/>
<circle cx="493.2" cy="160.3" r="1.15"/>
<circle cx="495.8" cy="160.3" r="1.15"/>
<circle cx="498.6" cy="160.3" r="1.15"/>
<circle cx="500.2" cy="160.3" r="1.15"/>
<circle cx="502.9" cy="160.3" r="1.15"/>
<circle cx="484.7" cy="172.6" r="1.15"/>
<circle cx="486.5" cy="172.6" r="1.15"/>
<circle cx="489.2" cy="172.6" r="1.15"/>
<circle cx="491.1" cy="172.6" r="1.15"/>
<circle cx="493.2" cy="172.6" r="1.15"/>
<circle cx="495.5" cy="172.6" r="1.15"/>
<circle cx="497.6" cy="172.6" r="1.15"/>
<circle cx="500.0" cy="172.6" r="1.15"/>
<circle cx="502.3" cy="172.6" r="1.15"/>
<circle cx="504.8" cy="172.6" r="1.15"/>
<circle cx="485.3" cy="184.9" r="1.15"/>
<circle cx="487.5" cy="184.9" r="1.15"/>
<circle cx="490.5" cy="184.9" r="1.15"/>
<circle cx="492.4" cy="184.9" r="1.15"/>
<circle cx="495.1" cy="184.9" r="1.15"/>
<circle cx="497.1" cy="184.9" r="1.15"/>
<circle cx="499.7" cy="184.9" r="1.15"/>
<circle cx="501.8" cy="184.9" r="1.15"/>
<circle cx="504.8" cy="184.9" r="1.15"/>
<circle cx="487.2" cy="197.2" r="1.15"/>
<circle cx="490.2" cy="197.2" r="1.15"/>
<circle cx="492.2" cy="197.2" r="1.15"/>
<circle cx="494.3" cy="197.2" r="1.15"/>
<circle cx="497.5" cy="197.2" r="1.15"/>
<circle cx="499.6" cy="197.2" r="1.15"/>
<circle cx="501.9" cy="197.2" r="1.15"/>
<circle cx="485.3" cy="209.5" r="1.15"/>
<circle cx="487.1" cy="209.5" r="1.15"/>
<circle cx="489.7" cy="209.5" r="1.15"/>
<circle cx="492.4" cy="209.5" r="1.15"/>
<circle cx="493.6" cy="209.5" r="1.15"/>
<circle cx="496.7" cy="209.5" r="1.15"/>
<circle cx="498.4" cy="209.5" r="1.15"/>
<circle cx="500.7" cy="209.5" r="1.15"/>
<circle cx="502.9" cy="209.5" r="1.15"/>
<circle cx="485.3" cy="221.8" r="1.15"/>
<circle cx="488.1" cy="221.8" r="1.15"/>
<circle cx="490.0" cy="221.8" r="1.15"/>
<circle cx="492.6" cy="221.8" r="1.15"/>
<circle cx="495.3" cy="221.8" r="1.15"/>
<circle cx="498.1" cy="221.8" r="1.15"/>
<circle cx="499.7" cy="221.8" r="1.15"/>
<circle cx="502.8" cy="221.8" r="1.15"/>
<circle cx="504.8" cy="221.8" r="1.15"/>
<circle cx="485.9" cy="234.1" r="1.15"/>
<circle cx="488.2" cy="234.1" r="1.15"/>
<circle cx="491.1" cy="234.1" r="1.15"/>
<circle cx="493.6" cy="234.1" r="1.15"/>
<circle cx="495.7" cy="234.1" r="1.15"/>
<circle cx="497.7" cy="234.1" r="1.15"/>
<circle cx="500.0" cy="234.1" r="1.15"/>
<circle cx="486.3" cy="246.4" r="1.15"/>
<circle cx="488.1" cy="246.4" r="1.15"/>
<circle cx="489.6" cy="246.4" r="1.15"/>
<circle cx="492.1" cy="246.4" r="1.15"/>
<circle cx="497.6" cy="246.4" r="1.15"/>
<circle cx="499.3" cy="246.4" r="1.15"/>
<circle cx="501.9" cy="246.4" r="1.15"/>
<circle cx="484.7" cy="258.6" r="1.15"/>
<circle cx="486.7" cy="258.6" r="1.15"/>
<circle cx="491.1" cy="258.6" r="1.15"/>
<circle cx="494.1" cy="258.6" r="1.15"/>
<circle cx="496.0" cy="258.6" r="1.15"/>
<circle cx="501.9" cy="258.6" r="1.15"/>
<circle cx="503.8" cy="258.6" r="1.15"/>
<circle cx="485.9" cy="270.9" r="1.15"/>
<circle cx="490.6" cy="270.9" r="1.15"/>
<circle cx="495.0" cy="270.9" r="1.15"/>
<circle cx="499.5" cy="270.9" r="1.15"/>
<circle cx="503.5" cy="270.9" r="1.15"/>
<circle cx="484.7" cy="283.2" r="1.15"/>
<circle cx="486.6" cy="283.2" r="1.15"/>
<circle cx="489.9" cy="283.2" r="1.15"/>
<circle cx="491.7" cy="283.2" r="1.15"/>
<circle cx="494.0" cy="283.2" r="1.15"/>
<circle cx="496.4" cy="283.2" r="1.15"/>
<circle cx="499.7" cy="283.2" r="1.15"/>
<circle cx="502.2" cy="283.2" r="1.15"/>
<circle cx="504.2" cy="283.2" r="1.15"/>
<circle cx="489.8" cy="295.5" r="1.15"/>
<circle cx="495.0" cy="295.5" r="1.15"/>
<circle cx="504.8" cy="295.5" r="1.15"/>
<circle cx="486.7" cy="307.8" r="1.15"/>
<circle cx="493.1" cy="307.8" r="1.15"/>
<circle cx="496.4" cy="307.8" r="1.15"/>
<circle cx="493.7" cy="320.1" r="1.15"/>
<circle cx="496.0" cy="320.1" r="1.15"/>
<circle cx="497.6" cy="320.1" r="1.15"/>
<circle cx="500.0" cy="320.1" r="1.15"/>
<circle cx="486.7" cy="332.4" r="1.15"/>
<circle cx="490.2" cy="332.4" r="1.15"/>
<circle cx="487.8" cy="344.7" r="1.15"/>
<circle cx="499.5" cy="344.7" r="1.15"/>
<circle cx="500.9" cy="357.0" r="1.15"/>
<circle cx="488.2" cy="369.2" r="1.15"/>
<circle cx="504.2" cy="369.2" r="1.15"/>
<circle cx="493.1" cy="381.5" r="1.15"/>
<circle cx="497.0" cy="381.5" r="1.15"/>
<circle cx="503.5" cy="418.4" r="1.15"/>
<circle cx="485.9" cy="454.5" r="1.15"/>
<circle cx="490.2" cy="454.5" r="1.15"/>
<circle cx="554.6" cy="86.6" r="1.15"/>
<circle cx="558.0" cy="86.6" r="1.15"/>
<circle cx="568.3" cy="86.6" r="1.15"/>
<circle cx="553.3" cy="98.9" r="1.15"/>
<circle cx="556.0" cy="98.9" r="1.15"/>
<circle cx="559.5" cy="98.9" r="1.15"/>
<circle cx="547.8" cy="123.5" r="1.15"/>
<circle cx="559.5" cy="123.5" r="1.15"/>
<circle cx="565.4" cy="123.5" r="1.15"/>
<circle cx="567.3" cy="123.5" r="1.15"/>
<circle cx="553.3" cy="135.8" r="1.15"/>
<circle cx="560.1" cy="135.8" r="1.15"/>
<circle cx="566.4" cy="135.8" r="1.15"/>
<circle cx="548.8" cy="148.0" r="1.15"/>
<circle cx="550.7" cy="148.0" r="1.15"/>
<circle cx="555.2" cy="148.0" r="1.15"/>
<circle cx="549.8" cy="160.3" r="1.15"/>
<circle cx="553.7" cy="160.3" r="1.15"/>
<circle cx="558.6" cy="160.3" r="1.15"/>
<circle cx="565.0" cy="160.3" r="1.15"/>
<circle cx="568.3" cy="160.3" r="1.15"/>
<circle cx="548.8" cy="172.6" r="1.15"/>
<circle cx="550.7" cy="172.6" r="1.15"/>
<circle cx="555.2" cy="172.6" r="1.15"/>
<circle cx="560.5" cy="172.6" r="1.15"/>
<circle cx="565.0" cy="172.6" r="1.15"/>
<circle cx="567.3" cy="172.6" r="1.15"/>
<circle cx="550.2" cy="184.9" r="1.15"/>
<circle cx="552.0" cy="184.9" r="1.15"/>
<circle cx="554.2" cy="184.9" r="1.15"/>
<circle cx="556.5" cy="184.9" r="1.15"/>
<circle cx="558.6" cy="184.9" r="1.15"/>
<circle cx="563.0" cy="184.9" r="1.15"/>
<circle cx="567.3" cy="184.9" r="1.15"/>
<circle cx="548.2" cy="197.2" r="1.15"/>
<circle cx="550.1" cy="197.2" r="1.15"/>
<circle cx="552.8" cy="197.2" r="1.15"/>
<circle cx="554.9" cy="197.2" r="1.15"/>
<circle cx="558.0" cy="197.2" r="1.15"/>
<circle cx="560.3" cy="197.2" r="1.15"/>
<circle cx="562.1" cy="197.2" r="1.15"/>
<circle cx="564.4" cy="197.2" r="1.15"/>
<circle cx="548.8" cy="209.5" r="1.15"/>
<circle cx="550.7" cy="209.5" r="1.15"/>
<circle cx="552.7" cy="209.5" r="1.15"/>
<circle cx="555.2" cy="209.5" r="1.15"/>
<circle cx="557.1" cy="209.5" r="1.15"/>
<circle cx="560.2" cy="209.5" r="1.15"/>
<circle cx="561.7" cy="209.5" r="1.15"/>
<circle cx="564.0" cy="209.5" r="1.15"/>
<circle cx="566.4" cy="209.5" r="1.15"/>
<circle cx="548.2" cy="221.8" r="1.15"/>
<circle cx="552.7" cy="221.8" r="1.15"/>
<circle cx="554.5" cy="221.8" r="1.15"/>
<circle cx="557.4" cy="221.8" r="1.15"/>
<circle cx="560.0" cy="221.8" r="1.15"/>
<circle cx="562.4" cy="221.8" r="1.15"/>
<circle cx="564.5" cy="221.8" r="1.15"/>
<circle cx="567.3" cy="221.8" r="1.15"/>
<circle cx="548.8" cy="234.1" r="1.15"/>
<circle cx="550.7" cy="234.1" r="1.15"/>
<circle cx="552.1" cy="234.1" r="1.15"/>
<circle cx="554.6" cy="234.1" r="1.15"/>
<circle cx="558.0" cy="234.1" r="1.15"/>
<circle cx="559.7" cy="234.1" r="1.15"/>
<circle cx="561.9" cy="234.1" r="1.15"/>
<circle cx="548.2" cy="246.4" r="1.15"/>
<circle cx="549.9" cy="246.4" r="1.15"/>
<circle cx="552.5" cy="246.4" r="1.15"/>
<circle cx="554.3" cy="246.4" r="1.15"/>
<circle cx="556.5" cy="246.4" r="1.15"/>
<circle cx="559.0" cy="246.4" r="1.15"/>
<circle cx="561.5" cy="246.4" r="1.15"/>
<circle cx="565.8" cy="246.4" r="1.15"/>
<circle cx="547.4" cy="258.6" r="1.15"/>
<circle cx="549.8" cy="258.6" r="1.15"/>
<circle cx="553.7" cy="258.6" r="1.15"/>
<circle cx="555.6" cy="258.6" r="1.15"/>
<circle cx="558.3" cy="258.6" r="1.15"/>
<circle cx="560.5" cy="258.6" r="1.15"/>
<circle cx="563.4" cy="258.6" r="1.15"/>
<circle cx="565.9" cy="258.6" r="1.15"/>
<circle cx="568.3" cy="258.6" r="1.15"/>
<circle cx="547.4" cy="270.9" r="1.15"/>
<circle cx="549.8" cy="270.9" r="1.15"/>
<circle cx="551.8" cy="270.9" r="1.15"/>
<circle cx="553.7" cy="270.9" r="1.15"/>
<circle cx="557.6" cy="270.9" r="1.15"/>
<circle cx="560.3" cy="270.9" r="1.15"/>
<circle cx="562.9" cy="270.9" r="1.15"/>
<circle cx="564.7" cy="270.9" r="1.15"/>
<circle cx="567.3" cy="270.9" r="1.15"/>
<circle cx="547.8" cy="283.2" r="1.15"/>
<circle cx="550.0" cy="283.2" r="1.15"/>
<circle cx="553.3" cy="283.2" r="1.15"/>
<circle cx="554.7" cy="283.2" r="1.15"/>
<circle cx="557.8" cy="283.2" r="1.15"/>
<circle cx="560.2" cy="283.2" r="1.15"/>
<circle cx="561.9" cy="283.2" r="1.15"/>
<circle cx="565.3" cy="283.2" r="1.15"/>
<circle cx="567.3" cy="283.2" r="1.15"/>
<circle cx="547.8" cy="295.5" r="1.15"/>
<circle cx="550.5" cy="295.5" r="1.15"/>
<circle cx="552.5" cy="295.5" r="1.15"/>
<circle cx="554.9" cy="295.5" r="1.15"/>
<circle cx="557.3" cy="295.5" r="1.15"/>
<circle cx="558.8" cy="295.5" r="1.15"/>
<circle cx="561.5" cy="295.5" r="1.15"/>
<circle cx="563.7" cy="295.5" r="1.15"/>
<circle cx="566.4" cy="295.5" r="1.15"/>
<circle cx="568.3" cy="295.5" r="1.15"/>
<circle cx="547.8" cy="307.8" r="1.15"/>
<circle cx="550.3" cy="307.8" r="1.15"/>
<circle cx="552.4" cy="307.8" r="1.15"/>
<circle cx="554.1" cy="307.8" r="1.15"/>
<circle cx="559.1" cy="307.8" r="1.15"/>
<circle cx="563.4" cy="307.8" r="1.15"/>
<circle cx="565.5" cy="307.8" r="1.15"/>
<circle cx="567.3" cy="307.8" r="1.15"/>
<circle cx="547.8" cy="320.1" r="1.15"/>
<circle cx="550.7" cy="320.1" r="1.15"/>
<circle cx="552.7" cy="320.1" r="1.15"/>
<circle cx="555.2" cy="320.1" r="1.15"/>
<circle cx="557.7" cy="320.1" r="1.15"/>
<circle cx="559.9" cy="320.1" r="1.15"/>
<circle cx="561.6" cy="320.1" r="1.15"/>
<circle cx="563.6" cy="320.1" r="1.15"/>
<circle cx="566.4" cy="320.1" r="1.15"/>
<circle cx="548.2" cy="332.4" r="1.15"/>
<circle cx="550.1" cy="332.4" r="1.15"/>
<circle cx="552.7" cy="332.4" r="1.15"/>
<circle cx="554.8" cy="332.4" r="1.15"/>
<circle cx="557.6" cy="332.4" r="1.15"/>
<circle cx="562.5" cy="332.4" r="1.15"/>
<circle cx="564.8" cy="332.4" r="1.15"/>
<circle cx="566.4" cy="332.4" r="1.15"/>
<circle cx="568.3" cy="332.4" r="1.15"/>
<circle cx="550.7" cy="344.7" r="1.15"/>
<circle cx="553.2" cy="344.7" r="1.15"/>
<circle cx="555.6" cy="344.7" r="1.15"/>
<circle cx="558.0" cy="344.7" r="1.15"/>
<circle cx="560.2" cy="344.7" r="1.15"/>
<circle cx="562.0" cy="344.7" r="1.15"/>
<circle cx="565.3" cy="344.7" r="1.15"/>
<circle cx="567.3" cy="344.7" r="1.15"/>
<circle cx="549.4" cy="357.0" r="1.15"/>
<circle cx="552.1" cy="357.0" r="1.15"/>
<circle cx="554.6" cy="357.0" r="1.15"/>
<circle cx="556.6" cy="357.0" r="1.15"/>
<circle cx="558.9" cy="357.0" r="1.15"/>
<circle cx="561.1" cy="357.0" r="1.15"/>
<circle cx="565.8" cy="357.0" r="1.15"/>
<circle cx="547.8" cy="369.2" r="1.15"/>
<circle cx="550.0" cy="369.2" r="1.15"/>
<circle cx="551.4" cy="369.2" r="1.15"/>
<circle cx="554.2" cy="369.2" r="1.15"/>
<circle cx="556.0" cy="369.2" r="1.15"/>
<circle cx="559.9" cy="369.2" r="1.15"/>
<circle cx="564.4" cy="369.2" r="1.15"/>
<circle cx="547.4" cy="381.5" r="1.15"/>
<circle cx="550.7" cy="381.5" r="1.15"/>
<circle cx="558.0" cy="381.5" r="1.15"/>
<circle cx="559.8" cy="381.5" r="1.15"/>
<circle cx="561.7" cy="381.5" r="1.15"/>
<circle cx="564.0" cy="381.5" r="1.15"/>
<circle cx="566.4" cy="381.5" r="1.15"/>
<circle cx="551.3" cy="393.8" r="1.15"/>
<circle cx="553.9" cy="393.8" r="1.15"/>
<circle cx="555.6" cy="393.8" r="1.15"/>
<circle cx="558.6" cy="393.8" r="1.15"/>
<circle cx="561.2" cy="393.8" r="1.15"/>
<circle cx="563.0" cy="393.8" r="1.15"/>
<circle cx="552.7" cy="406.1" r="1.15"/>
<circle cx="559.9" cy="406.1" r="1.15"/>
<circle cx="561.9" cy="406.1" r="1.15"/>
<circle cx="550.2" cy="418.4" r="1.15"/>
<circle cx="553.3" cy="418.4" r="1.15"/>
<circle cx="563.4" cy="418.4" r="1.15"/>
<circle cx="566.4" cy="418.4" r="1.15"/>
<circle cx="548.8" cy="430.7" r="1.15"/>
<circle cx="554.1" cy="430.7" r="1.15"/>
<circle cx="555.6" cy="430.7" r="1.15"/>
<circle cx="549.8" cy="443.0" r="1.15"/>
<circle cx="559.5" cy="443.0" r="1.15"/>
<circle cx="547.8" cy="454.5" r="1.15"/>
<circle cx="550.1" cy="454.5" r="1.15"/>
<circle cx="552.2" cy="454.5" r="1.15"/>
<circle cx="554.6" cy="454.5" r="1.15"/>
<circle cx="557.1" cy="454.5" r="1.15"/>
<circle cx="559.5" cy="454.5" r="1.15"/>
<circle cx="561.6" cy="454.5" r="1.15"/>
<circle cx="563.9" cy="454.5" r="1.15"/>
<circle cx="565.5" cy="454.5" r="1.15"/>
<circle cx="568.3" cy="454.5" r="1.15"/>
<circle cx="612.3" cy="86.6" r="1.15"/>
<circle cx="619.1" cy="86.6" r="1.15"/>
<circle cx="629.5" cy="98.9" r="1.15"/>
<circle cx="613.2" cy="111.2" r="1.15"/>
<circle cx="615.8" cy="111.2" r="1.15"/>
<circle cx="610.7" cy="123.5" r="1.15"/>
<circle cx="612.7" cy="123.5" r="1.15"/>
<circle cx="615.3" cy="123.5" r="1.15"/>
<circle cx="618.1" cy="123.5" r="1.15"/>
<circle cx="613.8" cy="135.8" r="1.15"/>
<circle cx="624.0" cy="135.8" r="1.15"/>
<circle cx="630.2" cy="135.8" r="1.15"/>
<circle cx="613.2" cy="148.0" r="1.15"/>
<circle cx="620.1" cy="148.0" r="1.15"/>
<circle cx="624.4" cy="148.0" r="1.15"/>
<circle cx="625.9" cy="148.0" r="1.15"/>
<circle cx="614.6" cy="160.3" r="1.15"/>
<circle cx="617.1" cy="160.3" r="1.15"/>
<circle cx="618.9" cy="160.3" r="1.15"/>
<circle cx="621.4" cy="160.3" r="1.15"/>
<circle cx="623.6" cy="160.3" r="1.15"/>
<circle cx="611.9" cy="172.6" r="1.15"/>
<circle cx="622.4" cy="172.6" r="1.15"/>
<circle cx="625.0" cy="172.6" r="1.15"/>
<circle cx="612.3" cy="184.9" r="1.15"/>
<circle cx="615.2" cy="184.9" r="1.15"/>
<circle cx="623.6" cy="184.9" r="1.15"/>
<circle cx="625.4" cy="184.9" r="1.15"/>
<circle cx="627.9" cy="184.9" r="1.15"/>
<circle cx="630.8" cy="184.9" r="1.15"/>
<circle cx="610.7" cy="197.2" r="1.15"/>
<circle cx="613.8" cy="197.2" r="1.15"/>
<circle cx="615.5" cy="197.2" r="1.15"/>
<circle cx="617.9" cy="197.2" r="1.15"/>
<circle cx="619.7" cy="197.2" r="1.15"/>
<circle cx="625.9" cy="197.2" r="1.15"/>
<circle cx="629.5" cy="197.2" r="1.15"/>
<circle cx="611.3" cy="209.5" r="1.15"/>
<circle cx="613.8" cy="209.5" r="1.15"/>
<circle cx="616.0" cy="209.5" r="1.15"/>
<circle cx="618.1" cy="209.5" r="1.15"/>
<circle cx="621.6" cy="209.5" r="1.15"/>
<circle cx="626.3" cy="209.5" r="1.15"/>
<circle cx="616.2" cy="221.8" r="1.15"/>
<circle cx="619.1" cy="221.8" r="1.15"/>
<circle cx="623.0" cy="221.8" r="1.15"/>
<circle cx="625.3" cy="221.8" r="1.15"/>
<circle cx="628.2" cy="221.8" r="1.15"/>
<circle cx="630.8" cy="221.8" r="1.15"/>
<circle cx="613.8" cy="234.1" r="1.15"/>
<circle cx="616.1" cy="234.1" r="1.15"/>
<circle cx="618.4" cy="234.1" r="1.15"/>
<circle cx="620.2" cy="234.1" r="1.15"/>
<circle cx="623.0" cy="234.1" r="1.15"/>
<circle cx="629.8" cy="234.1" r="1.15"/>
<circle cx="610.7" cy="246.4" r="1.15"/>
<circle cx="615.2" cy="246.4" r="1.15"/>
<circle cx="617.9" cy="246.4" r="1.15"/>
<circle cx="619.3" cy="246.4" r="1.15"/>
<circle cx="622.5" cy="246.4" r="1.15"/>
<circle cx="624.6" cy="246.4" r="1.15"/>
<circle cx="625.8" cy="246.4" r="1.15"/>
<circle cx="628.5" cy="246.4" r="1.15"/>
<circle cx="630.8" cy="246.4" r="1.15"/>
<circle cx="612.7" cy="258.6" r="1.15"/>
<circle cx="618.1" cy="258.6" r="1.15"/>
<circle cx="620.7" cy="258.6" r="1.15"/>
<circle cx="623.1" cy="258.6" r="1.15"/>
<circle cx="624.7" cy="258.6" r="1.15"/>
<circle cx="626.7" cy="258.6" r="1.15"/>
<circle cx="628.8" cy="258.6" r="1.15"/>
<circle cx="631.4" cy="258.6" r="1.15"/>
<circle cx="610.7" cy="270.9" r="1.15"/>
<circle cx="613.5" cy="270.9" r="1.15"/>
<circle cx="614.8" cy="270.9" r="1.15"/>
<circle cx="617.5" cy="270.9" r="1.15"/>
<circle cx="619.2" cy="270.9" r="1.15"/>
<circle cx="621.9" cy="270.9" r="1.15"/>
<circle cx="624.6" cy="270.9" r="1.15"/>
<circle cx="625.9" cy="270.9" r="1.15"/>
<circle cx="629.0" cy="270.9" r="1.15"/>
<circle cx="630.8" cy="270.9" r="1.15"/>
<circle cx="611.9" cy="283.2" r="1.15"/>
<circle cx="614.2" cy="283.2" r="1.15"/>
<circle cx="616.9" cy="283.2" r="1.15"/>
<circle cx="619.0" cy="283.2" r="1.15"/>
<circle cx="620.7" cy="283.2" r="1.15"/>
<circle cx="623.8" cy="283.2" r="1.15"/>
<circle cx="625.6" cy="283.2" r="1.15"/>
<circle cx="627.3" cy="283.2" r="1.15"/>
<circle cx="630.2" cy="283.2" r="1.15"/>
<circle cx="611.9" cy="295.5" r="1.15"/>
<circle cx="613.8" cy="295.5" r="1.15"/>
<circle cx="617.7" cy="295.5" r="1.15"/>
<circle cx="619.3" cy="295.5" r="1.15"/>
<circle cx="622.0" cy="295.5" r="1.15"/>
<circle cx="624.1" cy="295.5" r="1.15"/>
<circle cx="626.3" cy="295.5" r="1.15"/>
<circle cx="613.8" cy="307.8" r="1.15"/>
<circle cx="616.0" cy="307.8" r="1.15"/>
<circle cx="618.2" cy="307.8" r="1.15"/>
<circle cx="620.9" cy="307.8" r="1.15"/>
<circle cx="623.3" cy="307.8" r="1.15"/>
<circle cx="626.4" cy="307.8" r="1.15"/>
<circle cx="627.8" cy="307.8" r="1.15"/>
<circle cx="630.8" cy="307.8" r="1.15"/>
<circle cx="614.6" cy="320.1" r="1.15"/>
<circle cx="618.1" cy="320.1" r="1.15"/>
<circle cx="620.1" cy="320.1" r="1.15"/>
<circle cx="624.4" cy="320.1" r="1.15"/>
<circle cx="628.9" cy="320.1" r="1.15"/>
<circle cx="611.3" cy="332.4" r="1.15"/>
<circle cx="617.7" cy="332.4" r="1.15"/>
<circle cx="620.5" cy="332.4" r="1.15"/>
<circle cx="624.4" cy="332.4" r="1.15"/>
<circle cx="629.8" cy="332.4" r="1.15"/>
<circle cx="612.3" cy="344.7" r="1.15"/>
<circle cx="615.8" cy="344.7" r="1.15"/>
<circle cx="618.7" cy="344.7" r="1.15"/>
<circle cx="621.0" cy="344.7" r="1.15"/>
<circle cx="624.0" cy="344.7" r="1.15"/>
<circle cx="626.7" cy="344.7" r="1.15"/>
<circle cx="628.1" cy="344.7" r="1.15"/>
<circle cx="630.8" cy="344.7" r="1.15"/>
<circle cx="611.9" cy="357.0" r="1.15"/>
<circle cx="621.0" cy="357.0" r="1.15"/>
<circle cx="624.0" cy="357.0" r="1.15"/>
<circle cx="627.5" cy="357.0" r="1.15"/>
<circle cx="630.2" cy="357.0" r="1.15"/>
<circle cx="612.3" cy="369.2" r="1.15"/>
<circle cx="613.8" cy="369.2" r="1.15"/>
<circle cx="617.7" cy="369.2" r="1.15"/>
<circle cx="622.4" cy="369.2" r="1.15"/>
<circle cx="625.9" cy="369.2" r="1.15"/>
<circle cx="629.2" cy="369.2" r="1.15"/>
<circle cx="631.4" cy="369.2" r="1.15"/>
<circle cx="611.3" cy="381.5" r="1.15"/>
<circle cx="613.2" cy="381.5" r="1.15"/>
<circle cx="621.6" cy="381.5" r="1.15"/>
<circle cx="624.0" cy="381.5" r="1.15"/>
<circle cx="626.7" cy="381.5" r="1.15"/>
<circle cx="629.4" cy="381.5" r="1.15"/>
<circle cx="631.4" cy="381.5" r="1.15"/>
<circle cx="610.7" cy="393.8" r="1.15"/>
<circle cx="613.8" cy="393.8" r="1.15"/>
<circle cx="617.1" cy="393.8" r="1.15"/>
<circle cx="618.5" cy="393.8" r="1.15"/>
<circle cx="623.6" cy="393.8" r="1.15"/>
<circle cx="627.9" cy="393.8" r="1.15"/>
<circle cx="611.9" cy="406.1" r="1.15"/>
<circle cx="613.8" cy="406.1" r="1.15"/>
<circle cx="616.1" cy="406.1" r="1.15"/>
<circle cx="618.3" cy="406.1" r="1.15"/>
<circle cx="621.2" cy="406.1" r="1.15"/>
<circle cx="622.9" cy="406.1" r="1.15"/>
<circle cx="625.0" cy="406.1" r="1.15"/>
<circle cx="611.9" cy="418.4" r="1.15"/>
<circle cx="613.8" cy="418.4" r="1.15"/>
<circle cx="627.5" cy="418.4" r="1.15"/>
<circle cx="629.8" cy="418.4" r="1.15"/>
<circle cx="612.3" cy="430.7" r="1.15"/>
<circle cx="616.6" cy="430.7" r="1.15"/>
<circle cx="617.7" cy="430.7" r="1.15"/>
<circle cx="610.7" cy="443.0" r="1.15"/>
<circle cx="613.8" cy="443.0" r="1.15"/>
<circle cx="625.9" cy="443.0" r="1.15"/>
<circle cx="627.7" cy="443.0" r="1.15"/>
<circle cx="629.8" cy="443.0" r="1.15"/>
<circle cx="610.7" cy="454.5" r="1.15"/>
<circle cx="612.8" cy="454.5" r="1.15"/>
<circle cx="614.9" cy="454.5" r="1.15"/>
<circle cx="616.9" cy="454.5" r="1.15"/>
<circle cx="619.2" cy="454.5" r="1.15"/>
<circle cx="622.3" cy="454.5" r="1.15"/>
<circle cx="623.8" cy="454.5" r="1.15"/>
<circle cx="626.9" cy="454.5" r="1.15"/>
<circle cx="628.3" cy="454.5" r="1.15"/>
<circle cx="630.8" cy="454.5" r="1.15"/>
</g>
<path fill="none" stroke="#111" stroke-width="2.3" stroke-linecap="round" d="

"/>
</g>
<line x1="118.6" y1="227.9" x2="118.6" y2="246.3" stroke="#000" stroke-width="1.6"/>
<line x1="112.6" y1="227.9" x2="124.6" y2="227.9" stroke="#000" stroke-width="1.6"/>
<line x1="112.6" y1="246.3" x2="124.6" y2="246.3" stroke="#000" stroke-width="1.6"/>
<rect x="115.6" y="233.9" width="6" height="6" fill="#000"/>
<line x1="181.39999999999998" y1="205.6" x2="181.39999999999998" y2="221.6" stroke="#000" stroke-width="1.6"/>
<line x1="175.39999999999998" y1="205.6" x2="187.39999999999998" y2="205.6" stroke="#000" stroke-width="1.6"/>
<line x1="175.39999999999998" y1="221.6" x2="187.39999999999998" y2="221.6" stroke="#000" stroke-width="1.6"/>
<rect x="178.39999999999998" y="210.3" width="6" height="6" fill="#000"/>
<line x1="244.2" y1="287.4" x2="244.2" y2="307.1" stroke="#000" stroke-width="1.6"/>
<line x1="238.2" y1="287.4" x2="250.2" y2="287.4" stroke="#000" stroke-width="1.6"/>
<line x1="238.2" y1="307.1" x2="250.2" y2="307.1" stroke="#000" stroke-width="1.6"/>
<rect x="241.2" y="295.4" width="6" height="6" fill="#000"/>
<line x1="307.0" y1="312.6" x2="307.0" y2="332.6" stroke="#000" stroke-width="1.6"/>
<line x1="301.0" y1="312.6" x2="313.0" y2="312.6" stroke="#000" stroke-width="1.6"/>
<line x1="301.0" y1="332.6" x2="313.0" y2="332.6" stroke="#000" stroke-width="1.6"/>
<rect x="304.0" y="319.6" width="6" height="6" fill="#000"/>
<line x1="432.6" y1="221.2" x2="432.6" y2="238.4" stroke="#000" stroke-width="1.6"/>
<line x1="426.6" y1="221.2" x2="438.6" y2="221.2" stroke="#000" stroke-width="1.6"/>
<line x1="426.6" y1="238.4" x2="438.6" y2="238.4" stroke="#000" stroke-width="1.6"/>
<rect x="429.6" y="227.2" width="6" height="6" fill="#000"/>
<line x1="495.4" y1="208.2" x2="495.4" y2="224.5" stroke="#000" stroke-width="1.6"/>
<line x1="489.4" y1="208.2" x2="501.4" y2="208.2" stroke="#000" stroke-width="1.6"/>
<line x1="489.4" y1="224.5" x2="501.4" y2="224.5" stroke="#000" stroke-width="1.6"/>
<rect x="492.4" y="213.7" width="6" height="6" fill="#000"/>
<line x1="558.1999999999999" y1="274.5" x2="558.1999999999999" y2="294.8" stroke="#000" stroke-width="1.6"/>
<line x1="552.1999999999999" y1="274.5" x2="564.1999999999999" y2="274.5" stroke="#000" stroke-width="1.6"/>
<line x1="552.1999999999999" y1="294.8" x2="564.1999999999999" y2="294.8" stroke="#000" stroke-width="1.6"/>
<rect x="555.1999999999999" y="281.5" width="6" height="6" fill="#000"/>
<line x1="621.0" y1="279.7" x2="621.0" y2="300.5" stroke="#000" stroke-width="1.6"/>
<line x1="615.0" y1="279.7" x2="627.0" y2="279.7" stroke="#000" stroke-width="1.6"/>
<line x1="615.0" y1="300.5" x2="627.0" y2="300.5" stroke="#000" stroke-width="1.6"/>
<rect x="618.0" y="287.5" width="6" height="6" fill="#000"/>
<line x1="55.5" y1="52.9" x2="55.5" y2="455.3" stroke="#505050" stroke-width="1.4"/>
<line x1="54.8" y1="455.3" x2="684" y2="455.3" stroke="#505050" stroke-width="1.4"/>
<line x1="55.5" y1="455.30" x2="58.6" y2="455.30" stroke="#505050" stroke-width="1.2"/>
<text x="47.7" y="461.00" font-size="18" text-anchor="end">0</text>
<line x1="55.5" y1="381.56" x2="58.6" y2="381.56" stroke="#505050" stroke-width="1.2"/>
<text x="47.7" y="387.26" font-size="18" text-anchor="end">2</text>
<line x1="55.5" y1="307.82" x2="58.6" y2="307.82" stroke="#505050" stroke-width="1.2"/>
<text x="47.7" y="313.52" font-size="18" text-anchor="end">4</text>
<line x1="55.5" y1="234.08" x2="58.6" y2="234.08" stroke="#505050" stroke-width="1.2"/>
<text x="47.7" y="239.78" font-size="18" text-anchor="end">6</text>
<line x1="55.5" y1="160.34" x2="58.6" y2="160.34" stroke="#505050" stroke-width="1.2"/>
<text x="47.7" y="166.04" font-size="18" text-anchor="end">8</text>
<line x1="55.5" y1="86.60" x2="58.6" y2="86.60" stroke="#505050" stroke-width="1.2"/>
<text x="47.9" y="92.20" font-size="18" text-anchor="end">0</text>
<path d="M35.0 79.1V92.2H33.3V81.9Q31.8 83.3 29.8 84.2V82.5Q32.3 81.3 33.7 79.1Z" fill="#111"/>
<text x="212.5" y="478.8" font-size="18" text-anchor="middle">Person</text>
<text x="526.5" y="478.8" font-size="18" text-anchor="middle">Media</text>
<text x="369.2" y="509.2" font-size="20" letter-spacing="0.3" text-anchor="middle">Source</text>
<text transform="translate(16.6,268.7) rotate(-90)" font-size="20" letter-spacing="0.39" text-anchor="middle">Source Credibility</text>
</svg></body></html>
